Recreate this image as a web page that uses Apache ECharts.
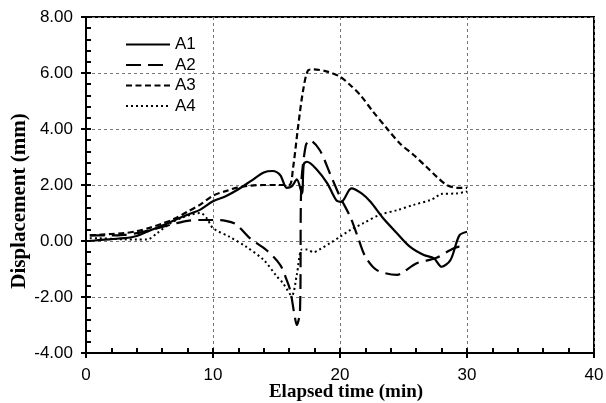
<!DOCTYPE html>
<html>
<head>
<meta charset="utf-8">
<script src="https://cdn.jsdelivr.net/npm/echarts@6/dist/echarts.min.js"></script>
<style>html,body{margin:0;padding:0;background:#fff}#c{width:606px;height:403px}</style>
</head>
<body>
<div id="c"></div>
<script>
const seriesNames = ['A1', 'A2', 'A3', 'A4'];
const xTicks = [0, 10, 20, 30, 40];
const yTicks = [-4, -2, 0, 2, 4, 6, 8];
const a1 = [[0.3,0.0],[1,0.03],[2,0.07],[3,0.1],[4,0.18],[5,0.37],[6,0.55],[7,0.75],[8,0.94],[9,1.12],[10,1.42],[11,1.6],[12,1.85],[13,2.15],[14,2.45],[14.7,2.5],[15.3,2.35],[15.8,1.9],[16.2,1.95],[16.6,2.2],[17.0,1.7],[17.15,2.75],[17.4,2.83],[18.2,2.54],[19,2.06],[19.7,1.46],[20.1,1.4],[20.9,1.88],[21.7,1.7],[22.4,1.4],[23.4,0.81],[24.5,0.27],[25.5,-0.2],[26.6,-0.5],[27.4,-0.62],[28,-0.92],[28.7,-0.68],[29.4,0.2],[30,0.33]];
const a2 = [[0.3,0.2],[1,0.2],[2,0.2],[3,0.22],[4,0.28],[5,0.38],[6,0.5],[7,0.62],[8,0.72],[9,0.75],[10,0.75],[11,0.72],[11.8,0.6],[12.9,0.1],[14.2,-0.32],[15.3,-0.86],[15.8,-1.39],[16.1,-1.8],[16.4,-2.6],[16.6,-3.0],[16.85,-2.5],[16.95,2.0],[17.3,3.4],[17.6,3.6],[18.4,3.25],[19.2,2.42],[20.0,1.58],[20.8,0.87],[21.4,0.15],[22.0,-0.56],[22.9,-1.04],[24.5,-1.21],[25,-1.1],[26,-0.8],[26.8,-0.7],[27.6,-0.6],[28.7,-0.32],[29.4,-0.2],[30,-0.2]];
const a3 = [[0.3,0.2],[1,0.22],[2,0.25],[3,0.28],[4,0.35],[5,0.47],[6,0.62],[7,0.8],[8,1.05],[9,1.3],[10,1.62],[11,1.78],[12,1.92],[13,1.98],[14,2.0],[15,2.0],[16,2.0],[16.3,2.6],[16.7,4.08],[17.1,5.39],[17.5,6.1],[17.9,6.13],[19,6.05],[20,5.87],[20.8,5.57],[21.6,5.21],[22.6,4.62],[23.7,4.02],[24.7,3.49],[25.8,3.07],[26.8,2.65],[27.6,2.3],[28.4,2.0],[29.2,1.9],[30,1.9]];
const a4 = [[0.3,0.1],[1,0.1],[2,0.08],[3,0.06],[4,0.05],[4.8,0.05],[5.6,0.28],[6.6,0.62],[7.5,0.82],[8.2,0.93],[9.0,1.0],[9.5,0.82],[10,0.46],[11.3,0.15],[12.6,-0.2],[14,-0.68],[15,-1.25],[15.5,-1.5],[16.2,-1.95],[16.6,-1.2],[17.0,-0.3],[17.4,-0.3],[17.9,-0.4],[18.4,-0.3],[19.2,-0.08],[20,0.15],[20.8,0.39],[21.8,0.63],[23.1,0.93],[24.5,1.1],[25.8,1.29],[27.1,1.46],[27.6,1.58],[27.9,1.68],[29.2,1.7],[30,1.77]];
const xTitle = 'Elapsed time (min)';
const yTitle = 'Displacement (mm)';

const seriesData = [a1, a2, a3, a4];
const dashes = ['solid', [15, 7], [6, 3.5], [2, 3]];
const widths = [2.2, 2.2, 2.2, 2];

const chart = echarts.init(document.getElementById('c'), null, {renderer: 'canvas'});
const labelFont = {color: '#000', fontFamily: 'Liberation Sans, Arial, sans-serif', fontSize: 17};
const gridLine = {show: true, lineStyle: {color: '#777', type: [3, 3], width: 1}};

chart.setOption({
  animation: false,
  backgroundColor: '#fff',
  grid: {left: 86, right: 12, top: 17, bottom: 50, outerBoundsMode: 'none', containLabel: false, show: true, borderColor: '#000', borderWidth: 2, backgroundColor: 'transparent'},
  legend: {
    orient: 'vertical', left: 120, top: 31, itemWidth: 44, itemHeight: 14, itemGap: 3.5,
    data: seriesNames,
    itemStyle: {opacity: 0},
    textStyle: {color: '#000', fontFamily: 'Liberation Sans, Arial, sans-serif', fontSize: 17, lineHeight: 14}
  },
  xAxis: [{
    type: 'value', min: xTicks[0], max: xTicks[xTicks.length - 1], interval: 10, position: 'bottom',
    axisLine: {onZero: false, lineStyle: {color: '#000', width: 2}},
    axisTick: {inside: true, length: 5, lineStyle: {color: '#000', width: 2}},
    minorTick: {show: true, splitNumber: 5, length: 5, lineStyle: {color: '#000', width: 2}},
    axisLabel: Object.assign({margin: 14}, labelFont),
    splitLine: gridLine
  }, {
    type: 'value', min: xTicks[0], max: xTicks[xTicks.length - 1], interval: 10, position: 'bottom', offset: 0,
    axisLine: {show: false, onZero: false},
    axisTick: {inside: false, length: 5, lineStyle: {color: '#000', width: 2}},
    axisLabel: {show: false}, splitLine: {show: false}
  }],
  yAxis: [{
    type: 'value', min: yTicks[0], max: yTicks[yTicks.length - 1], interval: 2, position: 'left',
    axisLine: {show: true, onZero: false, lineStyle: {color: '#000', width: 2}},
    axisTick: {show: true, inside: true, length: 5, lineStyle: {color: '#000', width: 2}},
    minorTick: {show: true, splitNumber: 5, length: 5, lineStyle: {color: '#000', width: 2}},
    axisLabel: Object.assign({margin: 13, formatter: v => v.toFixed(2)}, labelFont),
    splitLine: gridLine
  }, {
    type: 'value', min: yTicks[0], max: yTicks[yTicks.length - 1], interval: 2, position: 'left', offset: 0,
    axisLine: {show: false, onZero: false},
    axisTick: {show: true, inside: false, length: 5, lineStyle: {color: '#000', width: 2}},
    axisLabel: {show: false}, splitLine: {show: false}
  }],
  graphic: [{
    type: 'text', rotation: Math.PI / 2,
    x: 20, y: 201,
    style: {text: yTitle, fill: '#000', font: 'bold 21px "Liberation Serif", "Times New Roman", serif', textAlign: 'center', textVerticalAlign: 'middle'}
  }, {
    type: 'text',
    x: 346, y: 392,
    style: {text: xTitle, fill: '#000', font: 'bold 19px "Liberation Serif", "Times New Roman", serif', textAlign: 'center', textVerticalAlign: 'middle'}
  }],
  series: seriesNames.map((n, i) => ({
    name: n, type: 'line', xAxisIndex: 0, yAxisIndex: 0,
    data: seriesData[i], symbol: 'none', smooth: 0.3,
    lineStyle: {color: '#000', width: widths[i], type: dashes[i]},
    itemStyle: {color: '#000'}
  }))
});
</script>
</body>
</html>
